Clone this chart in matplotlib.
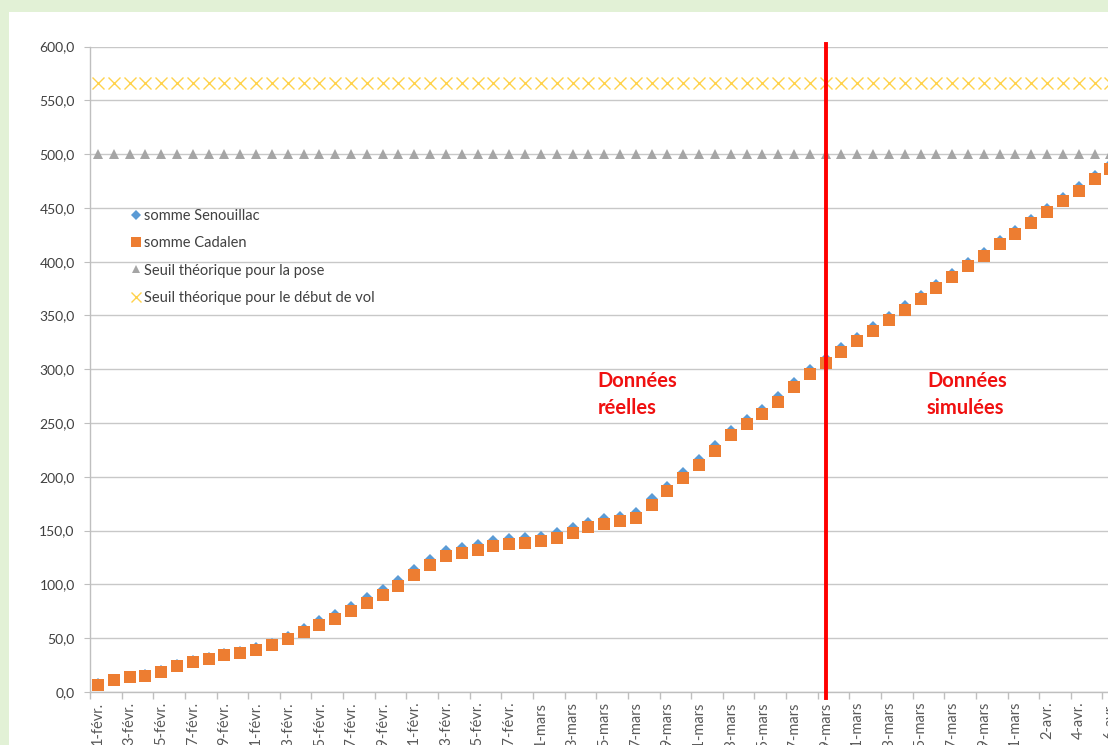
import numpy as np
import pandas as pd
import matplotlib
matplotlib.use("Agg")
import matplotlib.pyplot as plt
from matplotlib.patches import Rectangle

plt.rcParams['font.family'] = ['Lato', 'DejaVu Sans']

# --- Données (une valeur par jour à partir du 1er février) ---
somme_cadalen = [
    6.5, 11, 13.5, 15, 19, 24.5, 28, 31, 34.5, 36.5,
    39, 43.5, 49, 56, 62.5, 68, 75, 83, 90, 98.5,
    109, 118, 126, 129.5, 132, 136, 137.5, 138.5, 140, 143,
    148, 153, 156, 158.5, 161.5, 174, 186.5, 199, 211, 224,
    238.5, 249, 258.5, 270, 283.5, 295.5, 306, 316, 326, 336,
    346, 355.5, 365.5, 375.5, 386, 396, 405.5, 416, 425.5, 435.5,
    446, 456, 466, 476.5, 486,
]
somme_senouillac = [
    7, 11.5, 14, 15.5, 19.5, 25, 29, 32, 35.5, 37.5,
    40.5, 45, 51, 58.5, 66, 72, 79, 87, 95, 103.5,
    113.5, 123, 131, 134, 137, 140.5, 142, 143, 144.5, 147.5,
    152.5, 157.5, 161, 162.5, 166.5, 179, 191, 203.5, 215.5, 228.5,
    242.5, 253, 262.5, 274, 287, 299, 309.5, 319.5, 329.5, 339,
    349, 358.5, 368.5, 378.5, 389, 399, 408.5, 419, 428.5, 438.5,
    449, 459, 469, 479.5, 490,
]
SEUIL_POSE = 500.0
SEUIL_VOL = 566.0
DATE_DEBUT = "2017-02-01"
DATE_SIMULATION = "19-mars"

MOIS = {2: "févr.", 3: "mars", 4: "avr."}
dates = pd.date_range(DATE_DEBUT, periods=len(somme_cadalen), freq="D")
categories = [f"{d.day}-{MOIS[d.month]}" for d in dates]

n = len(categories)
x = np.arange(n)
seuil_pose = np.full(n, SEUIL_POSE)
seuil_vol = np.full(n, SEUIL_VOL)

W, H = 1108, 745
fig = plt.figure(figsize=(W / 100, H / 100), dpi=100)
fig.patch.set_facecolor("#E2F1D6")
# panneau blanc du graphique (coupé à droite et en bas comme la capture)
fig.patches.append(Rectangle((9 / W, 0), 1, (H - 12) / H, transform=fig.transFigure,
                             facecolor="white", edgecolor="none", zorder=-10))

px_jour = 15.82
x_gauche = 90
ax = fig.add_axes([x_gauche / W, 53 / H, (n + 2) * px_jour / W, 645.5 / H])
ax.set_facecolor("none")

ax.plot(x, seuil_vol, linestyle="none", marker="x", markersize=8.5, mew=1.0,
        color="#FFC000", alpha=0.7, label="Seuil théorique pour le début de vol", zorder=3)
ax.plot(x, seuil_pose, linestyle="none", marker="^", markersize=7, mew=0,
        color="#A5A5A5", label="Seuil théorique pour la pose", zorder=3)
ax.plot(x, somme_senouillac, linestyle="none", marker="D", markersize=6.5, mew=0,
        color="#5B9BD5", label="somme Senouillac", zorder=4)
ax.plot(x, somme_cadalen, linestyle="none", marker="s", markersize=8.5, mew=0,
        color="#ED7D31", label="somme Cadalen", zorder=5)

# ligne de séparation réel / simulé
i_split = categories.index(DATE_SIMULATION)
ax.axvline(i_split, ymin=-0.01, ymax=1.004, color="#FF0000", lw=2.8, clip_on=False, zorder=6)

ax.text(31.6, 298, "Données\nréelles", color="#F01010", fontsize=14.5, fontweight="bold",
        ha="left", va="top", linespacing=1.42)
ax.text(52.4, 298, "Données\nsimulées", color="#F01010", fontsize=14.5, fontweight="bold",
        ha="left", va="top", linespacing=1.42)

ax.set_ylim(0, 600)
ax.set_xlim(-0.5, n + 1.5)
ax.set_yticks(np.arange(0, 601, 50))
ax.set_yticklabels([f"{v:.1f}".replace(".", ",") for v in np.arange(0, 601, 50)])
ax.yaxis.grid(True, color="#C8C8C8", lw=1.0)
ax.set_axisbelow(True)

ax.set_xticks(x[::2])
ax.set_xticklabels(categories[::2], rotation=90, va="top", ha="center")
ax.set_xticks(np.arange(-0.5, n + 1, 2), minor=True)
ax.tick_params(axis="x", which="major", length=0, pad=7, labelsize=10.5, labelcolor="#595959")
ax.tick_params(axis="x", which="minor", length=5, color="#BFBFBF", width=1)
ax.tick_params(axis="y", length=4, color="#BFBFBF", pad=7, labelsize=10, labelcolor="#404040")

for side in ("top", "right"):
    ax.spines[side].set_visible(False)
for side in ("left", "bottom"):
    ax.spines[side].set_color("#BFBFBF")
    ax.spines[side].set_linewidth(1.0)

handles, labels = ax.get_legend_handles_labels()
ordre = [2, 3, 1, 0]
leg = ax.legend([handles[i] for i in ordre], [labels[i] for i in ordre],
                loc="upper left", bbox_to_anchor=(124 / W, 1 - 202 / H),
                bbox_transform=fig.transFigure, frameon=False, fontsize=10.5,
                handlelength=0.7, handletextpad=0.2, labelspacing=0.9, borderpad=0,
                markerscale=0.85)
for t in leg.get_texts():
    t.set_color("#404040")

fig.savefig("out.png", dpi=100)
